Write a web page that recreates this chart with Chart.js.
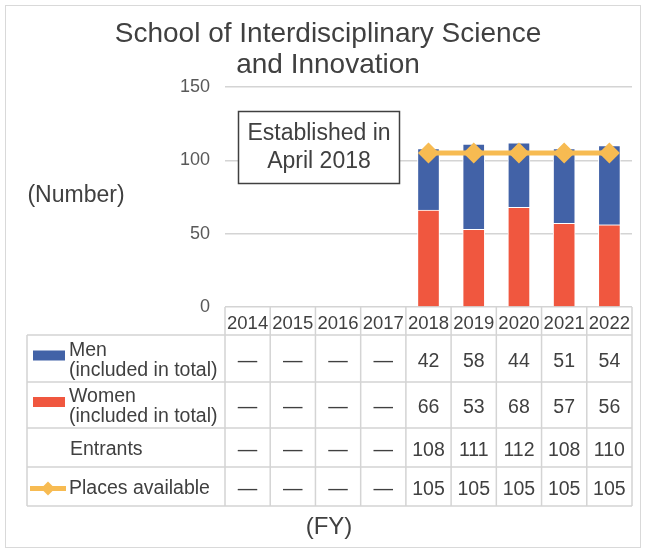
<!DOCTYPE html>
<html>
<head>
<meta charset="utf-8">
<script src="https://cdn.jsdelivr.net/npm/chart.js@4"></script>
<style>
  body { margin: 0; background: #fff; }
  canvas { display: block; }
</style>
</head>
<body>
<canvas id="entrantsChart" width="646" height="552"></canvas>
<script>
// DATA
const years = ["2014", "2015", "2016", "2017", "2018", "2019", "2020", "2021", "2022"];
const men = [null, null, null, null, 42, 58, 44, 51, 54];
const women = [null, null, null, null, 66, 53, 68, 57, 56];
const entrants = [null, null, null, null, 108, 111, 112, 108, 110];
const places = [null, null, null, null, 105, 105, 105, 105, 105];
const yTicks = [0, 50, 100, 150];

const BLUE = "#4262A7";
const RED = "#F0573F";
const ORANGE = "#F7BB52";
const TEXT = "#404040";
const GRID = "#D4D4D4";
const FONT = "'Liberation Sans', Arial, sans-serif";

// table rows under the chart
const tableRows = [
  { label: ["Men", "(included in total)"], values: men, key: "bar", color: BLUE, top: 335, bottom: 382 },
  { label: ["Women", "(included in total)"], values: women, key: "bar", color: RED, top: 382, bottom: 428 },
  { label: ["Entrants"], values: entrants, key: null, top: 428, bottom: 467 },
  { label: ["Places available"], values: places, key: "line", color: ORANGE, top: 467, bottom: 506 }
];

const extras = {
  id: "extras",
  beforeDraw(chart) {
    const ctx = chart.ctx;
    ctx.save();
    ctx.fillStyle = "#fff";
    ctx.fillRect(0, 0, chart.width, chart.height);
    ctx.strokeStyle = "#D9D9D9";
    ctx.lineWidth = 1;
    ctx.strokeRect(5.5, 5.5, 635, 542);
    ctx.restore();
  },
  afterDraw(chart) {
    const ctx = chart.ctx;
    const x = chart.scales.x;
    const area = chart.chartArea;
    const colW = (area.right - area.left) / years.length;
    ctx.save();

    // title
    ctx.fillStyle = TEXT;
    ctx.textAlign = "center";
    ctx.textBaseline = "middle";
    ctx.font = "28px " + FONT;
    ctx.fillText("School of Interdisciplinary Science", 328, 34);
    ctx.fillText("and Innovation", 328, 65);

    // axis titles
    ctx.font = "23px " + FONT;
    ctx.fillText("(Number)", 76, 196);
    ctx.font = "24px " + FONT;
    ctx.fillText("(FY)", 329, 527);

    // annotation box
    ctx.fillStyle = "#fff";
    ctx.fillRect(238, 111, 162, 73);
    ctx.strokeStyle = TEXT;
    ctx.lineWidth = 1.5;
    ctx.strokeRect(238.5, 111.5, 161, 72);
    ctx.fillStyle = TEXT;
    ctx.font = "23px " + FONT;
    ctx.fillText("Established in", 319, 134);
    ctx.fillText("April 2018", 319, 162);

    // table grid
    ctx.strokeStyle = GRID;
    ctx.lineWidth = 1.5;
    const tTop = area.bottom;
    const hBottom = tableRows[0].top;
    const tBottom = tableRows[tableRows.length - 1].bottom;
    ctx.beginPath();
    for (let i = 0; i <= years.length; i++) {
      const cx = area.left + i * colW;
      ctx.moveTo(cx, tTop);
      ctx.lineTo(cx, tBottom);
    }
    ctx.moveTo(27, hBottom);
    ctx.lineTo(area.right, hBottom);
    ctx.moveTo(27, hBottom);
    ctx.lineTo(27, tBottom);
    tableRows.forEach(r => {
      ctx.moveTo(27, r.bottom);
      ctx.lineTo(area.right, r.bottom);
    });
    ctx.stroke();

    // header labels
    ctx.fillStyle = TEXT;
    ctx.font = "18.5px " + FONT;
    ctx.textAlign = "center";
    years.forEach((y, i) => {
      ctx.fillText(y, x.getPixelForValue(i), (tTop + hBottom) / 2 + 3);
    });

    // rows
    tableRows.forEach(r => {
      const mid = (r.top + r.bottom) / 2 + 2;
      if (r.key === "bar") {
        ctx.fillStyle = r.color;
        ctx.fillRect(33, mid - 10, 32, 10);
      } else if (r.key === "line") {
        ctx.strokeStyle = r.color;
        ctx.lineWidth = 5;
        ctx.beginPath();
        ctx.moveTo(30, mid);
        ctx.lineTo(66, mid);
        ctx.stroke();
        ctx.fillStyle = r.color;
        ctx.beginPath();
        ctx.moveTo(48, mid - 7);
        ctx.lineTo(55, mid);
        ctx.lineTo(48, mid + 7);
        ctx.lineTo(41, mid);
        ctx.closePath();
        ctx.fill();
      }
      ctx.fillStyle = TEXT;
      ctx.font = "19.5px " + FONT;
      ctx.textAlign = "left";
      if (r.label.length === 2) {
        ctx.fillText(r.label[0], 69, mid - 10);
        ctx.fillText(r.label[1], 69, mid + 10);
      } else {
        ctx.fillText(r.label[0], r.key ? 69 : 70, mid);
      }
      ctx.textAlign = "center";
      r.values.forEach((v, i) => {
        ctx.fillText(v === null ? "—" : String(v), x.getPixelForValue(i), mid + 1);
      });
    });

    ctx.restore();
  }
};

new Chart(document.getElementById("entrantsChart"), {
  data: {
    labels: years,
    datasets: [
      {
        type: "line",
        label: "Places available",
        data: places,
        borderColor: ORANGE,
        backgroundColor: ORANGE,
        borderWidth: 5,
        pointStyle: "rectRot",
        pointRadius: 7,
        pointHoverRadius: 7,
        stack: "places",
        order: 0
      },
      {
        type: "bar",
        label: "Women (included in total)",
        data: women,
        backgroundColor: RED,
        borderColor: "#fff",
        borderWidth: 1,
        barThickness: 22,
        stack: "entrants",
        order: 1
      },
      {
        type: "bar",
        label: "Men (included in total)",
        data: men,
        backgroundColor: BLUE,
        borderColor: "#fff",
        borderWidth: 1,
        barThickness: 22,
        stack: "entrants",
        order: 1
      }
    ]
  },
  options: {
    responsive: false,
    animation: false,
    layout: { padding: { left: 0, top: 87, right: 14, bottom: 245 } },
    plugins: {
      legend: { display: false },
      tooltip: { enabled: false }
    },
    scales: {
      x: {
        display: false,
        stacked: true
      },
      y: {
        stacked: true,
        min: 0,
        max: 150,
        afterFit(scale) { scale.width = 225; },
        afterBuildTicks(scale) { scale.ticks = yTicks.map(v => ({ value: v })); },
        border: { display: false },
        grid: { color: GRID, lineWidth: 1.5, drawTicks: false },
        ticks: {
          color: "#595959",
          font: { size: 18, family: FONT },
          padding: 15
        }
      }
    }
  },
  plugins: [extras]
});
</script>
</body>
</html>
